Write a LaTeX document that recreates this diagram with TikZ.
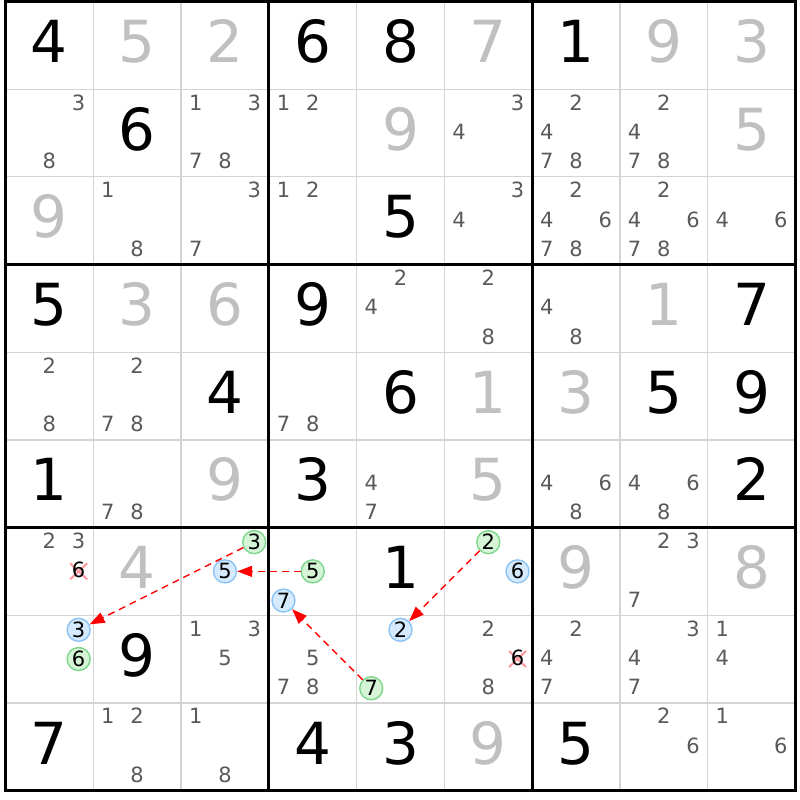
\documentclass[tikz,border=0pt]{standalone}
\usepackage{fontspec}
\setmainfont{DejaVu Sans}
\usetikzlibrary{arrows.meta}
\definecolor{candgray}{RGB}{90,90,90}
\definecolor{solvedgray}{RGB}{192,192,192}
\definecolor{thingrid}{RGB}{212,212,212}
\definecolor{bluefill}{RGB}{214,234,255}
\definecolor{blueline}{RGB}{140,195,245}
\definecolor{greenfill}{RGB}{214,245,214}
\definecolor{greenline}{RGB}{125,214,140}
\definecolor{crossred}{RGB}{255,150,160}
\definecolor{linkred}{RGB}{255,0,0}
\tikzset{
  bigdigit/.style={inner sep=0pt, text height=41.6pt, text depth=0pt, font=\fontsize{58}{58}\selectfont, yshift=3.5pt},
  given/.style={bigdigit, text=black},
  solved/.style={bigdigit, text=solvedgray},
  cand/.style={inner sep=0pt, text height=15pt, text depth=0pt, font=\fontsize{21}{21}\selectfont, text=candgray, yshift=1pt},
  candx/.style={cand, text=black},
  circ/.style={circle, inner sep=0pt, minimum size=23pt, line width=1.4pt, text height=15pt, text depth=0pt, font=\fontsize{21}{21}\selectfont, text=black},
  bluecirc/.style={circ, fill=bluefill, draw=blueline},
  greencirc/.style={circ, fill=greenfill, draw=greenline},
  thinline/.style={draw=thingrid, line width=1.3pt},
  thickline/.style={draw=black, line width=3pt, line cap=rect},
  crossline/.style={draw=crossred, line width=2pt},
  link/.style={draw=linkred, line width=1.4pt, dash pattern=on 7pt off 5pt, -{Triangle[length=15pt,width=11pt]}}
}
\newcommand\givendigit[3]{\node[given] (n#1#2) at (#2-0.5,#1-0.5) {#3};}
\newcommand\solveddigit[3]{\node[solved] (n#1#2) at (#2-0.5,#1-0.5) {#3};}
\newcommand\candlist[3]{\foreach \dd in {#3}{\node[cand] (c#1#2\dd) at ({#2-1+(mod(\dd-1,3)+0.5)/3},{#1-1+(floor((\dd-1)/3)+0.5)/3}) {\dd};}}
\newcommand\circcand[5]{\node[#4] (#5) at ({#2-1+(mod(#3-1,3)+0.5)/3},{#1-1+(floor((#3-1)/3)+0.5)/3}) {#3};}
\newcommand\crossedcand[3]{%
  \coordinate (p#1#2#3) at ({#2-1+(mod(#3-1,3)+0.5)/3},{#1-1+(floor((#3-1)/3)+0.5)/3});
  \draw[crossline] ([xshift=-8.5pt,yshift=-8pt]p#1#2#3) -- ([xshift=8.5pt,yshift=8pt]p#1#2#3);
  \draw[crossline] ([xshift=-8.5pt,yshift=8pt]p#1#2#3) -- ([xshift=8.5pt,yshift=-8pt]p#1#2#3);
  \node[candx] (x#1#2#3) at (p#1#2#3) {#3};}
\begin{document}
\begin{tikzpicture}
\useasboundingbox[fill=white] (0pt,0pt) rectangle (800pt,-800pt);
\begin{scope}[x=87.78pt, y=-87.67pt, shift={(5.5pt,-1.5pt)}]
% thin grid
\foreach \i in {1,2,4,5,7,8}{
  \draw[thinline] (\i,0) -- (\i,9);
  \draw[thinline] (0,\i) -- (9,\i);
}
% thick grid
\foreach \i in {0,3,6,9}{
  \draw[thickline] (\i,0) -- (\i,9);
  \draw[thickline] (0,\i) -- (9,\i);
}
% row 1
\givendigit{1}{1}{4}\solveddigit{1}{2}{5}\solveddigit{1}{3}{2}
\givendigit{1}{4}{6}\givendigit{1}{5}{8}\solveddigit{1}{6}{7}
\givendigit{1}{7}{1}\solveddigit{1}{8}{9}\solveddigit{1}{9}{3}
% row 2
\candlist{2}{1}{3,8}\givendigit{2}{2}{6}\candlist{2}{3}{1,3,7,8}
\candlist{2}{4}{1,2}\solveddigit{2}{5}{9}\candlist{2}{6}{3,4}
\candlist{2}{7}{2,4,7,8}\candlist{2}{8}{2,4,7,8}\solveddigit{2}{9}{5}
% row 3
\solveddigit{3}{1}{9}\candlist{3}{2}{1,8}\candlist{3}{3}{3,7}
\candlist{3}{4}{1,2}\givendigit{3}{5}{5}\candlist{3}{6}{3,4}
\candlist{3}{7}{2,4,6,7,8}\candlist{3}{8}{2,4,6,7,8}\candlist{3}{9}{4,6}
% row 4
\givendigit{4}{1}{5}\solveddigit{4}{2}{3}\solveddigit{4}{3}{6}
\givendigit{4}{4}{9}\candlist{4}{5}{2,4}\candlist{4}{6}{2,8}
\candlist{4}{7}{4,8}\solveddigit{4}{8}{1}\givendigit{4}{9}{7}
% row 5
\candlist{5}{1}{2,8}\candlist{5}{2}{2,7,8}\givendigit{5}{3}{4}
\candlist{5}{4}{7,8}\givendigit{5}{5}{6}\solveddigit{5}{6}{1}
\solveddigit{5}{7}{3}\givendigit{5}{8}{5}\givendigit{5}{9}{9}
% row 6
\givendigit{6}{1}{1}\candlist{6}{2}{7,8}\solveddigit{6}{3}{9}
\givendigit{6}{4}{3}\candlist{6}{5}{4,7}\solveddigit{6}{6}{5}
\candlist{6}{7}{4,6,8}\candlist{6}{8}{4,6,8}\givendigit{6}{9}{2}
% row 7
\candlist{7}{1}{2,3}\crossedcand{7}{1}{6}\solveddigit{7}{2}{4}
\circcand{7}{3}{3}{greencirc}{g733}\circcand{7}{3}{5}{bluecirc}{b735}
\circcand{7}{4}{5}{greencirc}{g745}\circcand{7}{4}{7}{bluecirc}{b747}
\givendigit{7}{5}{1}
\circcand{7}{6}{2}{greencirc}{g762}\circcand{7}{6}{6}{bluecirc}{b766}
\solveddigit{7}{7}{9}\candlist{7}{8}{2,3,7}\solveddigit{7}{9}{8}
% row 8
\circcand{8}{1}{3}{bluecirc}{b813}\circcand{8}{1}{6}{greencirc}{g816}
\givendigit{8}{2}{9}\candlist{8}{3}{1,3,5}\candlist{8}{4}{5,7,8}
\circcand{8}{5}{2}{bluecirc}{b852}\circcand{8}{5}{7}{greencirc}{g857}
\candlist{8}{6}{2,8}\crossedcand{8}{6}{6}
\candlist{8}{7}{2,4,7}\candlist{8}{8}{3,4,7}\candlist{8}{9}{1,4}
% row 9
\givendigit{9}{1}{7}\candlist{9}{2}{1,2,8}\candlist{9}{3}{1,8}
\givendigit{9}{4}{4}\givendigit{9}{5}{3}\solveddigit{9}{6}{9}
\givendigit{9}{7}{5}\candlist{9}{8}{2,6}\candlist{9}{9}{1,6}
% links
\draw[link] (g733) -- (b813);
\draw[link] (g745) -- (b735);
\draw[link] (g857) -- (b747);
\draw[link] (g762) -- (b852);
\end{scope}
\end{tikzpicture}
\end{document}
